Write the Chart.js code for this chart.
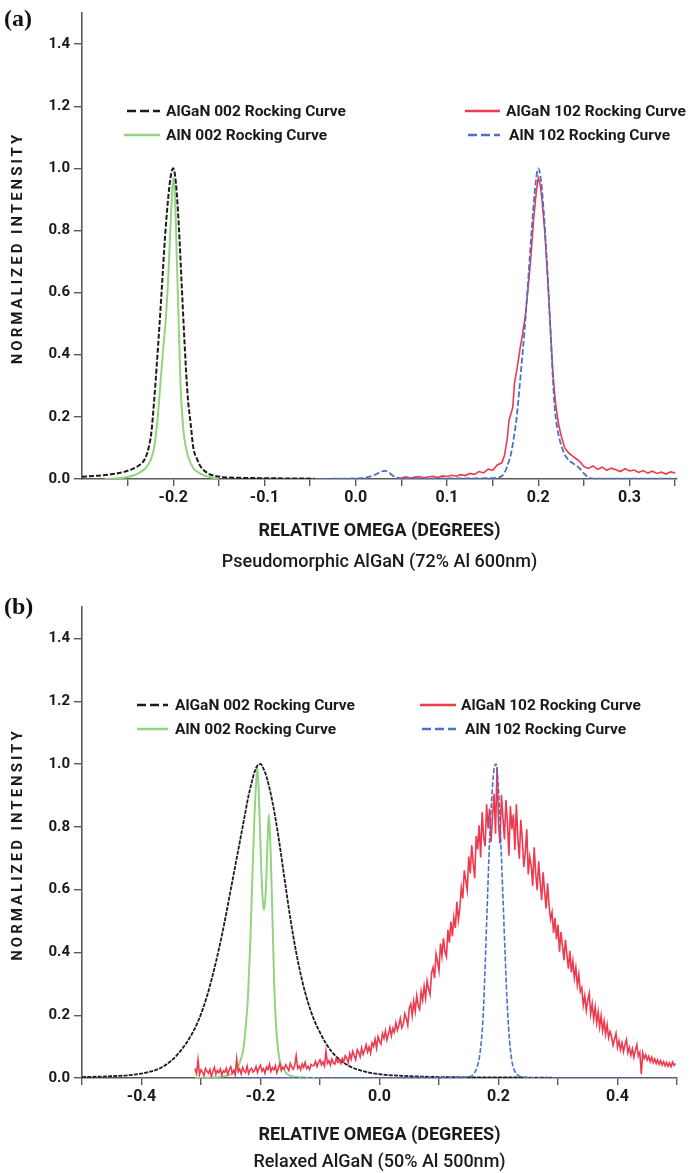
<!DOCTYPE html>
<html>
<head>
<meta charset="utf-8">
<script src="https://cdn.jsdelivr.net/npm/chart.js@4.4.1/dist/chart.umd.min.js"></script>
<style>
  html, body { margin: 0; padding: 0; background: #fff; }
  canvas { display: block; }
</style>
</head>
<body>
<canvas id="chartA" width="692" height="580"></canvas>
<canvas id="chartB" width="692" height="593"></canvas>
<script>
// ---------- Panel (a) data : Pseudomorphic AlGaN ----------
const aBlackX = [-0.300,-0.285,-0.270,-0.255,-0.245,-0.237,-0.231,-0.227,-0.224,-0.221,-0.218,-0.215,-0.212,-0.209,-0.206,-0.203,-0.200,-0.197,-0.194,-0.191,-0.188,-0.186,-0.184,-0.181,-0.178,-0.174,-0.170,-0.164,-0.156,-0.145,-0.130,-0.110,-0.080,-0.045];
const aBlackY = [0.007,0.010,0.014,0.022,0.032,0.045,0.065,0.10,0.15,0.25,0.37,0.50,0.64,0.78,0.89,0.97,1.0,0.95,0.82,0.64,0.46,0.35,0.26,0.18,0.10,0.065,0.04,0.022,0.011,0.006,0.004,0.003,0.002,0.001];

const aGreenX = [-0.275,-0.255,-0.243,-0.236,-0.230,-0.225,-0.221,-0.217,-0.214,-0.211,-0.208,-0.205,-0.202,-0.200,-0.198,-0.196,-0.194,-0.192,-0.189,-0.186,-0.183,-0.178,-0.172,-0.165,-0.158,-0.150];
const aGreenY = [0.0,0.004,0.012,0.022,0.036,0.06,0.1,0.2,0.31,0.42,0.52,0.68,0.88,0.97,0.9,0.7,0.5,0.3,0.16,0.1,0.065,0.035,0.02,0.01,0.005,0.0];

const aRedX = [0.050,0.055,0.060,0.065,0.070,0.075,0.080,0.085,0.090,0.095,0.100,0.105,0.110,0.115,0.120,0.125,0.130,0.135,0.140,0.145,0.150,0.155,0.160,
  0.163,0.166,0.168,0.170,0.172,0.174,0.177,0.180,0.183,0.186,0.189,0.192,0.195,0.198,0.200,0.202,0.204,0.207,0.210,0.213,0.216,0.219,0.222,0.225,
  0.229,0.233,0.237,0.241,0.245,
  0.250,0.255,0.260,0.265,0.270,0.275,0.280,0.285,0.290,0.295,0.300,0.305,0.310,0.315,0.320,0.325,0.330,0.335,0.340,0.345,0.350];
const aRedY = [0.004,0.007,0.003,0.006,0.008,0.004,0.007,0.009,0.005,0.010,0.008,0.012,0.009,0.014,0.011,0.018,0.015,0.024,0.020,0.032,0.028,0.045,0.052,
  0.076,0.13,0.19,0.21,0.23,0.31,0.36,0.42,0.47,0.53,0.62,0.72,0.84,0.93,0.97,0.95,0.90,0.80,0.66,0.50,0.34,0.24,0.18,0.14,
  0.10,0.085,0.075,0.066,0.058,
  0.040,0.034,0.042,0.031,0.038,0.028,0.035,0.030,0.024,0.033,0.026,0.029,0.021,0.027,0.019,0.025,0.018,0.022,0.016,0.023,0.019];

const aBlueX = [-0.045,-0.02,0.0,0.010,0.018,0.024,0.028,0.032,0.036,0.040,0.046,0.055,0.080,0.120,0.150,
  0.158,0.163,0.167,0.170,0.173,0.176,0.179,0.182,0.185,0.188,0.191,0.194,0.197,0.200,
  0.203,0.206,0.209,0.212,0.215,0.218,0.221,0.224,0.228,0.232,0.237,0.242,0.246,0.250,0.254,0.258,0.270,0.300,0.352];
const aBlueY = [0.0,0.001,0.002,0.004,0.010,0.018,0.024,0.026,0.022,0.012,0.004,0.002,0.002,0.002,0.003,
  0.006,0.02,0.05,0.08,0.13,0.19,0.28,0.38,0.48,0.60,0.73,0.85,0.95,1.0,
  0.96,0.86,0.72,0.56,0.38,0.23,0.16,0.12,0.085,0.065,0.052,0.043,0.032,0.018,0.007,0.002,0.001,0.001,0.001];

// ---------- Panel (b) data : Relaxed AlGaN ----------
const bBlackX = [-0.50,-0.46,-0.42,-0.39,-0.37,-0.35,-0.335,-0.32,-0.305,-0.29,-0.28,-0.27,-0.26,-0.25,-0.24,-0.23,-0.22,-0.215,-0.21,-0.205,-0.20,-0.195,-0.19,-0.18,-0.17,-0.16,-0.15,-0.14,-0.13,-0.12,-0.11,-0.10,-0.09,-0.08,-0.065,-0.05,-0.03,0.0,0.05,0.10,0.20,0.29];
const bBlackY = [0.003,0.005,0.009,0.018,0.03,0.055,0.085,0.125,0.18,0.26,0.33,0.41,0.5,0.6,0.7,0.8,0.9,0.94,0.975,0.995,1.0,0.985,0.96,0.88,0.77,0.64,0.51,0.4,0.31,0.24,0.185,0.145,0.11,0.083,0.055,0.037,0.023,0.012,0.006,0.003,0.002,0.001];

const bGreenX = [-0.31,-0.28,-0.26,-0.25,-0.243,-0.238,-0.233,-0.229,-0.225,-0.221,-0.217,-0.213,-0.210,-0.207,-0.205,-0.202,-0.199,-0.196,-0.194,-0.191,-0.188,-0.186,-0.183,-0.180,-0.177,-0.174,-0.171,-0.167,-0.162,-0.155,-0.14,-0.10];
const bGreenY = [0.0,0.002,0.006,0.012,0.022,0.035,0.06,0.09,0.16,0.26,0.44,0.68,0.84,0.95,0.99,0.86,0.68,0.56,0.535,0.6,0.76,0.84,0.72,0.52,0.3,0.17,0.1,0.05,0.03,0.012,0.003,0.0];

// AlGaN 102 (b): sampled every 0.0025 deg starting at -0.31 deg
const bRedStart = -0.31;
const bRedStep = 0.0025;
const bRedY = [
  0.030,0.014,0.058,0.011,0.026,0.019,0.008,0.031,0.022,0.015,0.027,0.006,0.021,0.034,0.012,0.024,0.017,0.029,0.009,0.023,
  0.018,0.031,0.012,0.027,0.036,0.015,0.025,0.010,0.062,0.020,0.029,0.013,0.033,0.022,0.017,0.038,0.014,0.026,0.031,0.019,
  0.024,0.037,0.018,0.032,0.041,0.022,0.030,0.015,0.035,0.027,0.044,0.021,0.033,0.026,0.039,0.017,0.031,0.046,0.024,0.034,
  0.029,0.042,0.033,0.024,0.047,0.035,0.028,0.040,0.071,0.031,0.038,0.026,0.045,0.034,0.050,0.030,0.037,0.027,0.043,0.039,
  0.040,0.053,0.036,0.049,0.058,0.042,0.051,0.038,0.085,0.047,0.055,0.041,0.060,0.048,0.044,0.063,0.050,0.057,0.046,0.062,
  0.052,0.071,0.064,0.049,0.078,0.060,0.085,0.072,0.058,0.090,0.081,0.067,0.096,0.075,0.088,0.106,0.083,0.099,0.079,0.112,
  0.101,0.124,0.095,0.131,0.117,0.108,0.142,0.126,0.150,0.121,0.139,0.161,0.134,0.158,0.146,0.176,0.152,0.168,0.190,0.160,
  0.172,0.205,0.190,0.168,0.221,0.236,0.198,0.245,0.212,0.262,0.231,0.219,0.276,0.248,0.292,0.255,0.310,0.284,0.266,0.335,
  0.352,0.318,0.395,0.371,0.342,0.428,0.389,0.445,0.402,0.386,0.472,0.431,0.498,0.452,0.512,0.478,0.561,0.503,0.540,0.606,
  0.572,0.661,0.628,0.598,0.705,0.652,0.742,0.684,0.636,0.771,0.728,0.805,0.702,0.846,0.768,0.738,0.872,0.795,0.858,0.752,
  0.836,0.905,0.778,0.990,0.812,0.746,0.902,0.828,0.760,0.885,0.812,0.708,0.866,0.792,0.840,0.726,0.872,0.765,0.698,0.822,
  0.760,0.672,0.718,0.792,0.648,0.705,0.676,0.612,0.735,0.652,0.598,0.690,0.624,0.566,0.655,0.592,0.540,0.620,0.548,0.505,
  0.528,0.462,0.510,0.441,0.488,0.402,0.465,0.422,0.375,0.440,0.392,0.348,0.405,0.336,0.372,0.318,0.352,0.296,0.330,0.275,
  0.288,0.232,0.262,0.215,0.248,0.270,0.204,0.236,0.188,0.226,0.175,0.210,0.162,0.198,0.150,0.181,0.139,0.170,0.128,0.148,
  0.132,0.105,0.124,0.142,0.098,0.118,0.090,0.112,0.084,0.105,0.122,0.080,0.097,0.072,0.093,0.066,0.088,0.106,0.070,0.082,
  0.012,0.080,0.062,0.074,0.057,0.069,0.052,0.066,0.049,0.061,0.046,0.058,0.044,0.055,0.041,0.052,0.039,0.050,0.037,0.048,
  0.036,0.051,0.040,0.046
];

const bBlueX = [-0.25,-0.10,0.05,0.12,0.15,0.158,0.164,0.169,0.174,0.178,0.182,0.186,0.190,0.193,0.196,0.199,0.202,0.205,0.208,0.211,0.214,0.217,0.220,0.224,0.228,0.233,0.240,0.25,0.30,0.40,0.50];
const bBlueY = [0.0,0.001,0.001,0.002,0.004,0.012,0.035,0.08,0.19,0.38,0.6,0.8,0.93,0.99,1.0,0.95,0.84,0.7,0.55,0.4,0.26,0.16,0.09,0.04,0.02,0.008,0.003,0.001,0.0,0.0,0.0];

const seriesNames = ['AlGaN 002 Rocking Curve','AlN 002 Rocking Curve','AlGaN 102 Rocking Curve','AlN 102 Rocking Curve'];
const yTicks = [0.0,0.2,0.4,0.6,0.8,1.0,1.2,1.4];

// ---------- helpers ----------
const pts = (xs, ys) => ys.map((y, i) => ({x: xs[i], y: y}));
const ptsStep = (x0, dx, ys) => ys.map((y, i) => ({x: +(x0 + i * dx).toFixed(4), y: y}));

const COL = { black: '#1c1c1c', green: '#93d384', red: '#ee3a4e', blue: '#4d6fc6' };
const FONT = 'Roboto, "Noto Sans", "DejaVu Sans", sans-serif';

const extras = {
  id: 'extras',
  afterDraw(chart, args, o) {
    const ctx = chart.ctx, ca = chart.chartArea;
    ctx.save();
    // panel label
    ctx.fillStyle = '#111';
    ctx.textAlign = 'left';
    ctx.textBaseline = 'middle';
    ctx.font = 'bold 24px "Liberation Serif", "DejaVu Serif", serif';
    ctx.fillText(o.panel, 4, o.panelY);
    // y title with letter spacing
    ctx.save();
    ctx.translate(o.yTitleX, (ca.top + ca.bottom) / 2);
    ctx.rotate(-Math.PI / 2);
    ctx.font = 'bold 15px ' + FONT;
    try { ctx.letterSpacing = '3px'; } catch (e) {}
    ctx.textAlign = 'center';
    ctx.fillStyle = '#1a1a1a';
    ctx.fillText('NORMALIZED INTENSITY', -2, 0);
    ctx.restore();
    // subtitle
    ctx.font = '500 18px ' + FONT;
    ctx.textAlign = 'center';
    ctx.fillStyle = '#1a1a1a';
    ctx.fillText(o.subtitle, (ca.left + ca.right) / 2, ca.bottom + o.subOffset);
    // legend
    ctx.font = 'bold 15.5px ' + FONT;
    ctx.textAlign = 'left';
    o.legend.forEach(it => {
      const ds = chart.data.datasets[it.ds];
      ctx.save();
      ctx.strokeStyle = ds.borderColor;
      ctx.lineWidth = 2.5;
      ctx.setLineDash(it.dash || []);
      ctx.beginPath();
      ctx.moveTo(it.x0, it.y);
      ctx.lineTo(it.x1, it.y);
      ctx.stroke();
      ctx.restore();
      ctx.fillStyle = '#1a1a1a';
      ctx.fillText(ds.label, it.tx, it.y + 1);
    });
    ctx.restore();
  }
};

function makeChart(id, cfg) {
  const every = cfg.xLabelEvery;
  return new Chart(document.getElementById(id), {
    type: 'line',
    data: { datasets: cfg.datasets },
    options: {
      responsive: false,
      animation: false,
      events: [],
      layout: { padding: { top: cfg.padTop, right: 15, left: 0, bottom: 0 } },
      elements: { point: { radius: 0 }, line: { tension: 0 } },
      plugins: {
        legend: { display: false },
        tooltip: { enabled: false },
        extras: cfg.extras
      },
      scales: {
        x: {
          type: 'linear',
          min: cfg.xMin, max: cfg.xMax,
          afterFit: s => { s.height = cfg.xHeight; },
          border: { display: true, color: '#5a5a5a', width: 1.6 },
          grid: { drawOnChartArea: false, drawTicks: true, tickLength: 7, color: '#5a5a5a', lineWidth: 1.4 },
          ticks: {
            stepSize: cfg.xStep, autoSkip: false, maxRotation: 0, includeBounds: false,
            padding: 2, color: '#1a1a1a',
            font: { family: FONT, size: 16, weight: 'bold' },
            callback: v => {
              const k = Math.round(v * 100);
              return (k % every === 0) ? (k / 100).toFixed(1) : '';
            }
          },
          title: {
            display: true, text: 'RELATIVE OMEGA (DEGREES)', color: '#1a1a1a',
            font: { family: FONT, size: 18, weight: 'bold' },
            padding: { top: 0, bottom: cfg.titlePad }
          }
        },
        y: {
          type: 'linear',
          min: 0, max: 1.5,
          afterFit: s => { s.width = 82; },
          afterBuildTicks: s => { s.ticks = yTicks.map(v => ({ value: v })); },
          border: { display: true, color: '#5a5a5a', width: 1.6 },
          grid: { drawOnChartArea: false, drawTicks: true, tickLength: 8, color: '#5a5a5a', lineWidth: 1.4 },
          ticks: {
            padding: 4, color: '#1a1a1a',
            font: { family: FONT, size: 15, weight: 'bold' },
            callback: v => v.toFixed(1)
          }
        }
      }
    },
    plugins: [extras]
  });
}

// Panel (a)
makeChart('chartA', {
  padTop: 8, xHeight: 101, titlePad: 38,
  xMin: -0.3, xMax: 0.352, xStep: 0.05, xLabelEvery: 10,
  datasets: [
    { label: seriesNames[3], data: pts(aBlueX, aBlueY), borderColor: COL.blue, borderWidth: 1.8, borderDash: [6, 2.5], cubicInterpolationMode: 'monotone' },
    { label: seriesNames[2], data: pts(aRedX, aRedY), borderColor: COL.red, borderWidth: 1.6 },
    { label: seriesNames[0], data: pts(aBlackX, aBlackY), borderColor: COL.black, borderWidth: 2, borderDash: [5, 2], cubicInterpolationMode: 'monotone' },
    { label: seriesNames[1], data: pts(aGreenX, aGreenY), borderColor: COL.green, borderWidth: 2, cubicInterpolationMode: 'monotone' }
  ],
  extras: {
    panel: '(a)', panelY: 20, yTitleX: 18, subtitle: 'Pseudomorphic AlGaN (72% Al 600nm)', subOffset: 83,
    legend: [
      { ds: 2, x0: 127, x1: 160, y: 111, tx: 166, dash: [9, 4] },
      { ds: 3, x0: 124, x1: 160, y: 135, tx: 166 },
      { ds: 1, x0: 465, x1: 500, y: 111, tx: 506 },
      { ds: 0, x0: 468, x1: 500, y: 135, tx: 509, dash: [9, 4] }
    ]
  }
});

// Panel (b)
makeChart('chartB', {
  padTop: 27, xHeight: 95, titlePad: 27,
  xMin: -0.5, xMax: 0.5, xStep: 0.1, xLabelEvery: 20,
  datasets: [
    { label: seriesNames[3], data: pts(bBlueX, bBlueY), borderColor: COL.blue, borderWidth: 1.6, borderDash: [5, 2], cubicInterpolationMode: 'monotone' },
    { label: seriesNames[2], data: ptsStep(bRedStart, bRedStep, bRedY), borderColor: COL.red, borderWidth: 1.6 },
    { label: seriesNames[0], data: pts(bBlackX, bBlackY), borderColor: COL.black, borderWidth: 1.8, borderDash: [4, 1.2], cubicInterpolationMode: 'monotone' },
    { label: seriesNames[1], data: pts(bGreenX, bGreenY), borderColor: COL.green, borderWidth: 2, cubicInterpolationMode: 'monotone' }
  ],
  extras: {
    panel: '(b)', panelY: 28, yTitleX: 18, subtitle: 'Relaxed AlGaN (50% Al 500nm)', subOffset: 84,
    legend: [
      { ds: 2, x0: 137, x1: 168, y: 125, tx: 175, dash: [9, 4] },
      { ds: 3, x0: 137, x1: 168, y: 149, tx: 175 },
      { ds: 1, x0: 420, x1: 456, y: 125, tx: 461 },
      { ds: 0, x0: 422, x1: 456, y: 149, tx: 465, dash: [9, 4] }
    ]
  }
});
</script>
</body>
</html>
